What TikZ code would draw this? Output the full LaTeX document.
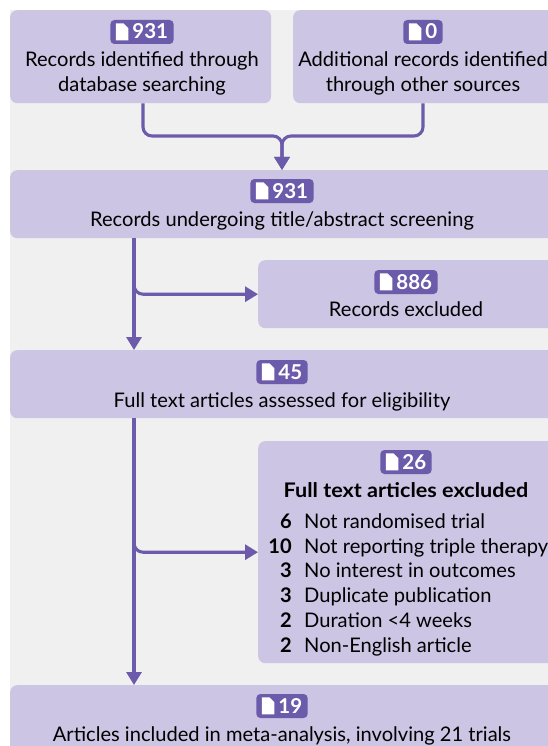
\documentclass[tikz,border=0pt]{standalone}
\usepackage{graphicx}
\usepackage{fontspec}
\setmainfont{Lato}
\definecolor{boxfill}{HTML}{CCC5E3}
\definecolor{linecol}{HTML}{6C5BAA}
\definecolor{bgcol}{HTML}{F0F0F0}
\usetikzlibrary{arrows.meta}
\newcommand{\docicon}{\tikz[baseline=0pt,x=1pt,y=1pt,sharp corners]{\fill[white] (0,-1.3) -- (0,15.7) -- (7.5,15.7) -- (12.5,10.7) -- (12.5,-1.3) -- cycle;}}
\newcommand{\cnt}[1]{\tikz[baseline=(t.base)]{\node[fill=linecol,rounded corners=4pt,text=white,font=\fontsize{20.5}{22}\selectfont\bfseries,inner xsep=5.5pt,inner ysep=5pt,text height=14pt,text depth=0pt] (t) {\docicon\hspace{4pt}#1};}}
\newcommand{\bodyfont}{\fontsize{20.1}{22}\selectfont}
\tikzset{
  flowbox/.style={fill=boxfill,rounded corners=7pt,anchor=north west,inner sep=0pt},
  conn/.style={draw=linecol,line width=3.1pt,rounded corners=9pt},
  tip/.style={-{Triangle[length=13pt,width=15pt]}},
  lab/.style={anchor=base,font=\bodyfont,text=black,inner sep=0pt},
  badge/.style={anchor=center,inner sep=0pt},
}
\begin{document}
\begin{tikzpicture}[x=1pt,y=-1pt]
\useasboundingbox (0,0) rectangle (548,746);
\fill[bgcol] (10,10) rectangle (548,746);
\begin{scope}
\clip (0,0) rectangle (548,746);
\node[flowbox,minimum width=261pt,minimum height=93pt] (a) at (10,10) {};
\node[flowbox,minimum width=270pt,minimum height=93pt] (b) at (293,10) {};
\node[flowbox,minimum width=546pt,minimum height=68pt] (c) at (10,170) {};
\node[flowbox,minimum width=300pt,minimum height=68pt] (d) at (258,260) {};
\node[flowbox,minimum width=546pt,minimum height=68pt] (e) at (10,350) {};
\node[flowbox,minimum width=300pt,minimum height=222pt] (f) at (258,441) {};
\node[flowbox,minimum width=546pt,minimum height=80pt] (g) at (10,685) {};
\end{scope}
\coordinate (m) at (282,136);
\coordinate (ca) at (143,136);
\coordinate (cb) at (423,136);
\draw[conn,tip] (ca |- a.south) -- (ca) -- (m) -- (m |- c.north);
\draw[conn,tip] (cb |- b.south) -- (cb) -- (m) -- (m |- c.north);
\coordinate (v1) at (134,240);
\coordinate (v2) at (134,420);
\draw[conn,tip,rounded corners=0pt] (v1 |- c.south) -- (v1 |- e.north);
\draw[conn,tip] (134,282) -- (v1 |- d.west) -- (d.west);
\draw[conn,tip,rounded corners=0pt] (v2 |- e.south) -- (v2 |- g.north);
\draw[conn,tip] (134,538) -- (v2 |- f.west) -- (f.west);
\node[badge] (a1) at (142,32) {\cnt{931}};
\node[lab] (a2) at (142,67) {Records identified through};
\node[lab] (a3) at (142,92) {database searching};
\node[badge] (b1) at (423,32) {\cnt{0}};
\node[lab] (b2) at (423,67) {Additional records identified};
\node[lab] (b3) at (423,92) {through other sources};
\node[badge] (c2) at (282,191) {\cnt{931}};
\node[lab] (c3) at (282,226) {Records undergoing title/abstract screening};
\node[badge] (d1) at (406,282) {\cnt{886}};
\node[lab] (d2) at (406,316) {Records excluded};
\node[badge] (e1) at (282,372) {\cnt{45}};
\node[lab] (e2) at (282,407) {Full text articles assessed for eligibility};
\node[badge] (f1) at (406,462) {\cnt{26}};
\node[lab,font=\bodyfont\bfseries] (f2) at (406,497) {\scalebox{1.075}[1]{Full text articles excluded}};
\foreach \n/\y/\t [count=\i] in {6/528/Not randomised trial,10/553/Not reporting triple therapy,3/577/No interest in outcomes,3/602/Duplicate publication,2/627/Duration <4 weeks,2/652/Non-English article}{
  \node[lab,anchor=base east,font=\bodyfont\bfseries] (fn\i) at (292,\y) {\n};
  \node[lab,anchor=base west] (ft\i) at (304,\y) {\t};
}
\node[badge] (g1) at (282,706) {\cnt{19}};
\node[lab] (g2) at (282,741) {Articles included in meta-analysis, involving 21 trials};
\end{tikzpicture}
\end{document}
